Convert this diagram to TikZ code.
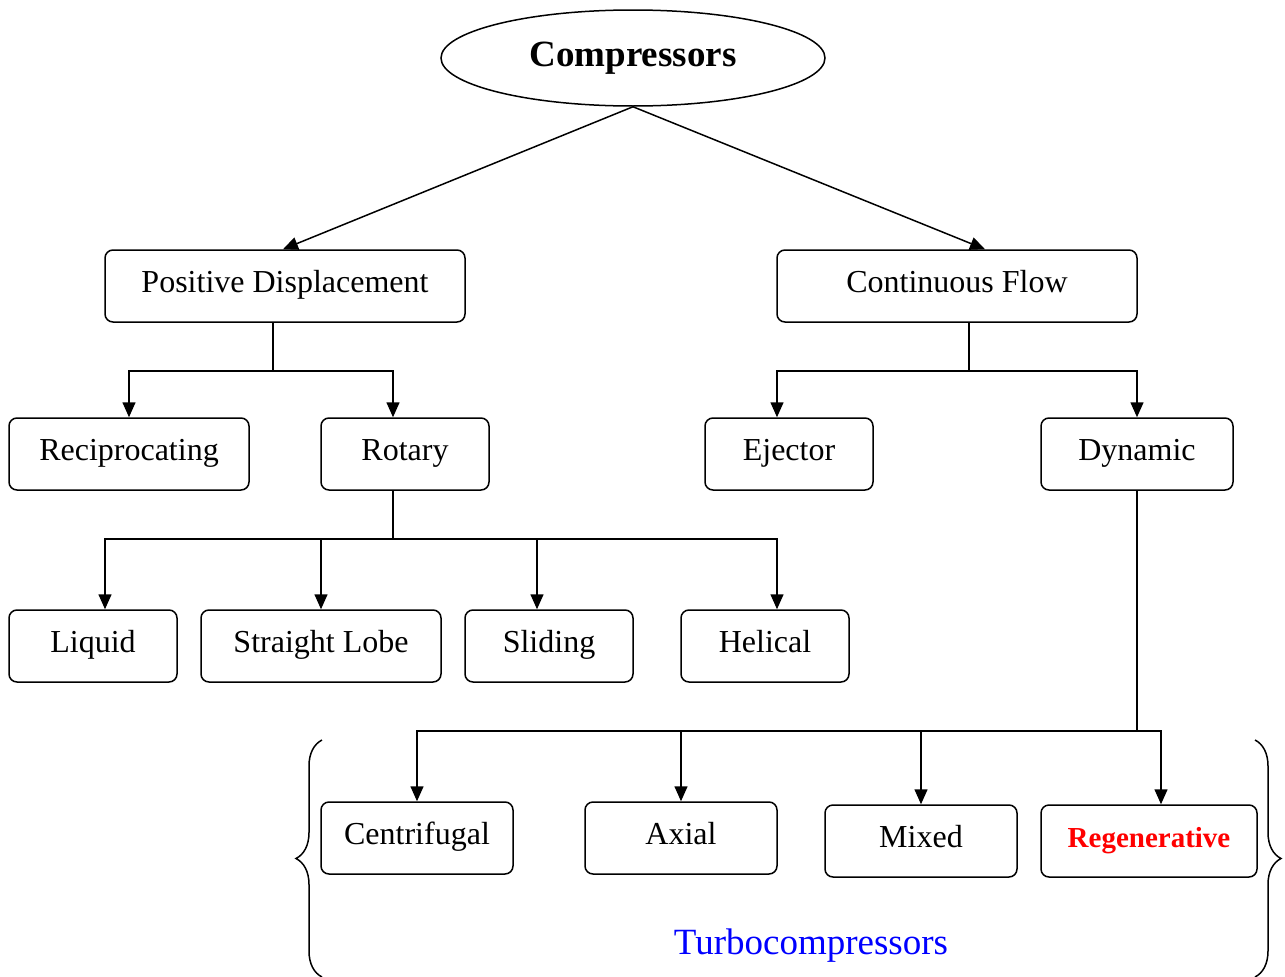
\documentclass[tikz,border=0pt]{standalone}
\usepackage{fontspec}
\setmainfont{Liberation Serif}
\usetikzlibrary{arrows.meta,shapes.geometric,decorations.pathreplacing}

\tikzset{
  box/.style={draw, rounded corners=8pt, line width=1.5pt, minimum height=72pt,
              inner sep=0pt, text height=22pt, text depth=10pt,
              font=\fontsize{32}{37}\selectfont},
  curly/.style={decorate, decoration={brace, amplitude=26pt}, line width=1.5pt}
}

\begin{document}
\begin{tikzpicture}[x=1pt,y=-1pt,line width=1.5pt,>={Triangle[length=15pt,width=13pt]}]
  \useasboundingbox (0,0) rectangle (1285,977);
  % top of the tree
  \node[draw, ellipse, line width=1.5pt, minimum width=384pt, minimum height=96pt, inner sep=0pt,
        font=\fontsize{37}{42}\selectfont\bfseries] (comp) at (633,58) {Compressors};
  \node[box, minimum width=360pt] (posd) at (285,286) {Positive Displacement};
  \node[box, minimum width=360pt] (cont) at (957,286) {Continuous Flow};
  % second row
  \node[box, minimum width=240pt] (recip)   at (129,454)  {Reciprocating};
  \node[box, minimum width=168pt] (rotary)  at (405,454)  {Rotary};
  \node[box, minimum width=168pt] (ejector) at (789,454)  {Ejector};
  \node[box, minimum width=192pt] (dynamic) at (1137,454) {Dynamic};
  % rotary types
  \node[box, minimum width=168pt] (liquid)  at (93,646)  {Liquid};
  \node[box, minimum width=240pt] (lobe)    at (321,646) {Straight Lobe};
  \node[box, minimum width=168pt] (sliding) at (549,646) {Sliding};
  \node[box, minimum width=168pt] (helical) at (765,646) {Helical};
  % dynamic types
  \node[box, minimum width=192pt] (centri) at (417,838)  {Centrifugal};
  \node[box, minimum width=192pt] (axial)  at (681,838)  {Axial};
  \node[box, minimum width=192pt] (mixed)  at (921,841)  {Mixed};
  \node[box, minimum width=216pt, text=red, font=\fontsize{29}{34}\selectfont\bfseries]
        (regen) at (1149,841) {Regenerative};
  \node[text=blue, font=\fontsize{37}{42}\selectfont] (turbo) at (811,946) {Turbocompressors};

  \draw[->] (comp.south) -- ([xshift=-2pt]posd.north);
  \draw[->] (comp.south) -- ([xshift=28pt]cont.north);

  \draw[->] ([xshift=-12pt]posd.south) -- ++(0,48) -| (recip.north);
  \draw[->] ([xshift=-12pt]posd.south) -- ++(0,48) -| ([xshift=-12pt]rotary.north);
  \draw[->] ([xshift=12pt]cont.south) -- ++(0,48) -| ([xshift=-12pt]ejector.north);
  \draw[->] ([xshift=12pt]cont.south) -- ++(0,48) -| (dynamic.north);

  \foreach \t/\dx in {liquid/12, lobe/0, sliding/-12, helical/12}
    \draw[->] ([xshift=-12pt]rotary.south) -- ++(0,48) -| ([xshift=\dx pt]\t.north);
  \foreach \t/\dx in {centri/0, axial/0, mixed/0, regen/12}
    \draw[->] (dynamic.south) -- ++(0,240) -| ([xshift=\dx pt]\t.north);

  % braces round the turbocompressors
  \draw[curly] (322,977) -- (322,740);
  \draw[curly] (1255,740) -- (1255,977);
\end{tikzpicture}
\end{document}
